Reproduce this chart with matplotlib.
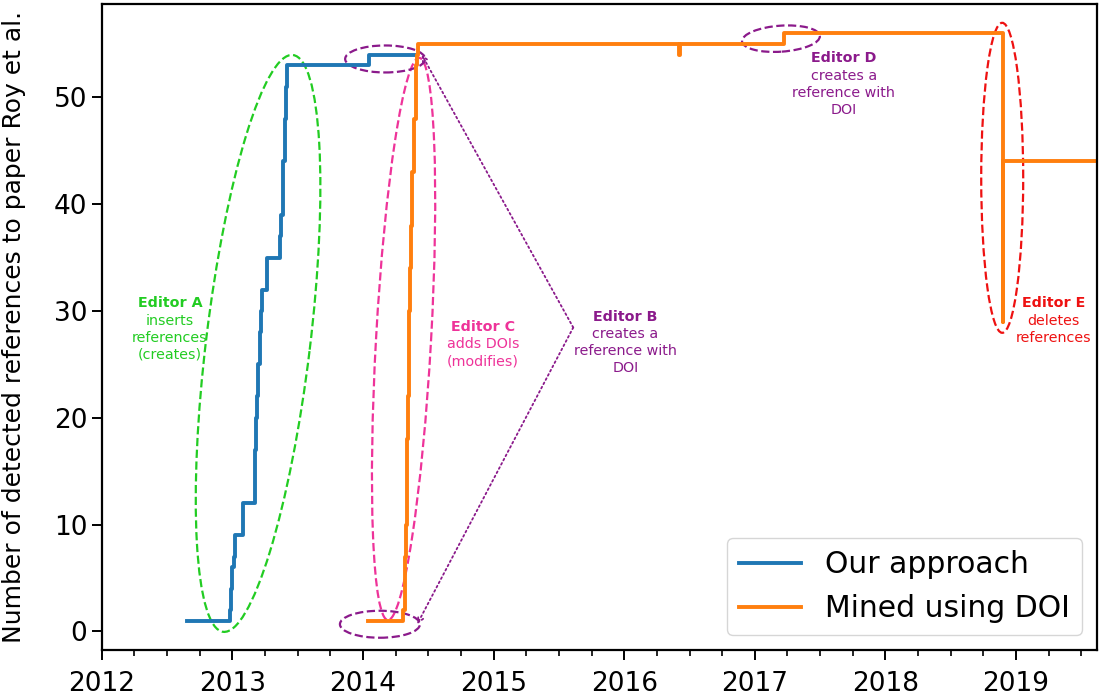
import matplotlib
matplotlib.use("Agg")
import matplotlib.pyplot as plt
from matplotlib.patches import Ellipse
from matplotlib.transforms import ScaledTranslation
from matplotlib.ticker import MultipleLocator, FormatStrFormatter

# --- data (decimal years, number of detected references) ---
blue_years = [2012.65, 2012.98, 2012.99, 2013.00, 2013.01, 2013.02, 2013.08,
              2013.17, 2013.175, 2013.18, 2013.19, 2013.20, 2013.21, 2013.22,
              2013.225, 2013.268, 2013.366, 2013.375, 2013.385, 2013.39,
              2013.40, 2013.41, 2013.417, 2014.05, 2014.39]
blue_refs = [1, 2, 4, 6, 7, 9, 12, 14, 17, 20, 22, 25, 28, 30, 32, 35, 37, 39,
             42, 44, 48, 51, 53, 54, 54]

orange_years = [2014.04, 2014.31, 2014.325, 2014.33, 2014.335, 2014.34,
                2014.345, 2014.35, 2014.355, 2014.36, 2014.365, 2014.374,
                2014.39, 2014.405, 2014.415, 2014.424, 2016.42, 2016.425,
                2017.22, 2018.90, 2018.902, 2019.7]
orange_refs = [1, 2, 7, 10, 14, 18, 22, 26, 30, 34, 38, 43, 48, 53, 54, 55,
               54, 55, 56, 29, 44, 44]

labels = ["Our approach", "Mined using DOI"]
year_ticks = [2012, 2013, 2014, 2015, 2016, 2017, 2018, 2019]

GREEN = "#22cc22"
PINK = "#ee3399"
PURPLE = "#8b1a8b"
RED = "#ee1111"

# editor notes: (x, y of bold title, title, body, colour)
notes = [
    (2012.523, 30.75, "Editor A", "inserts\nreferences\n(creates)", GREEN),
    (2016.01, 29.47, "Editor B", "creates a\nreference with\nDOI", PURPLE),
    (2014.92, 28.53, "Editor C", "adds DOIs\n(modifies)", PINK),
    (2017.68, 53.69, "Editor D", "creates a\nreference with\nDOI", PURPLE),
    (2019.29, 30.75, "Editor E", "deletes\nreferences", RED),
]

# ellipses: centre (data), width/height in pixels, angle, colour
ellipses = [
    (2013.197, 26.96, 581, 104, 83.1, GREEN),
    (2014.311, 27.38, 563, 55, 86.8, PINK),
    (2014.17, 53.6, 80, 27, 0, PURPLE),
    (2014.13, 0.66, 80, 27, 0, PURPLE),
    (2017.20, 55.5, 78, 26, 4, PURPLE),
    (2018.894, 42.47, 310, 42, 90, RED),
]

arrow_from = (2015.61, 28.45)
arrow_tips = [(2014.45, 54.0), (2014.415, 0.66)]

fig = plt.figure(figsize=(11.02, 6.98), dpi=100)
ax = fig.add_axes([0.0923, 0.0688, 0.9032, 0.9255])

ax.plot(blue_years, blue_refs, drawstyle="steps-post", color="#1f77b4",
        lw=2.8, label=labels[0])
ax.plot(orange_years, orange_refs, drawstyle="steps-post", color="#ff7f0e",
        lw=2.8, label=labels[1])

ax.set_xlim(2012, 2019.62)
ax.set_ylim(-1.75, 58.75)
ax.set_xticks(year_ticks)
ax.xaxis.set_major_formatter(FormatStrFormatter("%d"))
ax.xaxis.set_minor_locator(MultipleLocator(0.25))
ax.tick_params(which="major", labelsize=19, length=7, width=1.4)
ax.tick_params(axis="x", which="major", pad=8)
ax.tick_params(which="minor", length=4.5, width=1.2)
for sp in ax.spines.values():
    sp.set_linewidth(1.6)
ax.set_ylabel("Number of detected references to paper Roy et al.", fontsize=18)
ax.yaxis.set_label_coords(-0.076, 0.5)

for x, y, w, h, ang, col in ellipses:
    tr = fig.dpi_scale_trans + ScaledTranslation(x, y, ax.transData)
    ax.add_patch(Ellipse((0, 0), w / 100, h / 100, angle=ang, transform=tr,
                         fill=False, ls="--", lw=1.6, ec=col))

for tip in arrow_tips:
    ax.annotate("", xy=tip, xytext=arrow_from,
                arrowprops=dict(arrowstyle="->", ls=":", lw=1.3, color=PURPLE,
                                shrinkA=0, shrinkB=0))

for x, y, title, body, col in notes:
    ax.annotate(title, xy=(x, y), ha="center", va="center", fontsize=10.3,
                fontweight="bold", color=col)
    ax.annotate(body, xy=(x, y), xytext=(0, -7.8), textcoords="offset points",
                ha="center", va="top", fontsize=10.3, color=col,
                linespacing=1.26)

ax.legend(loc="lower right", fontsize=21.5, handlelength=2.1)

fig.savefig("out.png", dpi=100)
